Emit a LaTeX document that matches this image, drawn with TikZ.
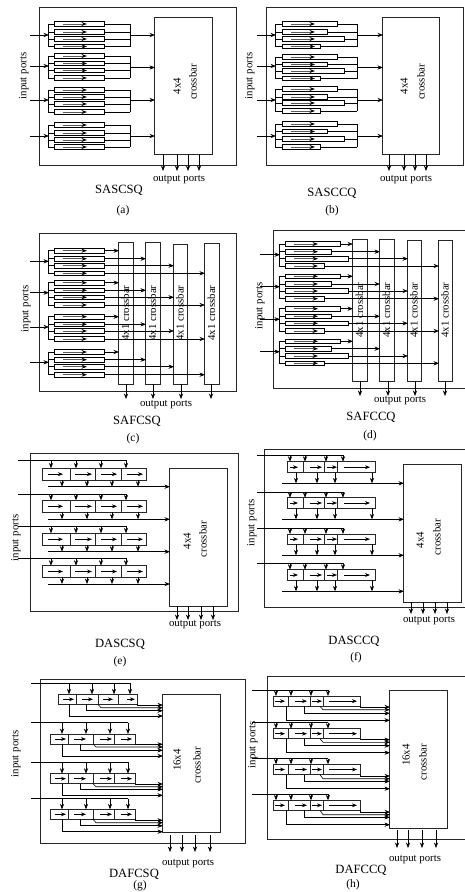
\documentclass[tikz,border=0pt]{standalone}
\usepackage{fontspec}
\setmainfont{Liberation Serif}
\usetikzlibrary{arrows.meta,calc}
\tikzset{
  wire/.style={line width=.6pt},
  arr/.style={wire,-{Stealth[length=5.5pt,width=4.2pt]},shorten >=-1pt},
  qarr/.style={line width=.9pt,black!65,-{Stealth[length=5.5pt,width=4pt,color=black]}},
  carr/.style={line width=.6pt,-{Stealth[length=5pt,width=3.8pt]}},
  frame/.style={line width=.8pt,black!85},
  barbox/.style={draw,line width=.7pt,black!85,inner sep=0pt,outer sep=0pt,anchor=north west},
  qbox/.style={draw,line width=.7pt,inner sep=0pt,outer sep=0pt,minimum height=4.5pt,anchor=west},
  cellbox/.style={draw,line width=.7pt,black!85,inner sep=0pt,outer sep=0pt,anchor=north west},
  port/.style={inner sep=0pt,font=\fontsize{10.8}{12}\selectfont},
  title/.style={inner sep=0pt,font=\fontsize{12.6}{14}\selectfont},
  capt/.style={inner sep=0pt,font=\fontsize{11.5}{13}\selectfont},
}
% crossbar: name, x0, y0, x1, y1
\newcommand\XB[5]{\node[barbox,minimum width={#4-#2},minimum height={#5-#3}] (#1) at (#2,#3) {};}
% output arrows: crossbar, x list, end y, gap
\newcommand\OUTS[4]{\foreach \x [count=\i] in {#2} {
  \coordinate (#1-o\i) at (\x,#3);
  \draw[arr,shorten <=#4pt] (#1-o\i |- #1.south) -- (#1-o\i);}}
% queue rows and fork: group, yin, y1..y4
\newcommand\ROWS[6]{
  \coordinate (#1-in) at (\Xin,#2);
  \coordinate (#1-fork) at (\Xfork,#2);
  \foreach \i/\yy/\rr in {1/#3/\Ra,2/#4/\Rb,3/#5/\Rc,4/#6/\Rd} {
    \node[qbox,minimum width={\rr-\Xbox}] (#1-\i) at (\Xbox,\yy) {};
    \draw[wire] (#1-fork |- #1-\i.west) -- (#1-\i.west);
    \draw[qarr] ({\Xbox+9},\yy) -- ({\Xbox+33},\yy);
  }
  \draw[arr] (#1-in) -- (#1-fork);
  \draw[wire] (#1-fork |- #1-1.west) -- (#1-fork |- #1-4.west);
}
% shared crossbar: group, yin, yout, y1..y4
\newcommand\SAS[7]{
  \ROWS{#1}{#2}{#4}{#5}{#6}{#7}
  \coordinate (#1-col) at (\Xcol,#3);
  \foreach \i in {1,2,3,4} {\draw[wire] (#1-\i.east) -- (#1-col |- #1-\i.east);}
  \draw[wire] (#1-col |- #1-1.east) -- (#1-col |- #1-4.east);
  \draw[arr] (#1-col) -- (\Tgt.west |- #1-col);
}
% four crossbars: group, yin, y1..y4
\newcommand\SAF[6]{
  \ROWS{#1}{#2}{#3}{#4}{#5}{#6}
  \foreach \i/\Tg in {1/\Ta,2/\Tb,3/\Tc,4/\Td} {\draw[arr] (#1-\i.east) -- (\Tg.west |- #1-\i.east);}
}
% dynamic queue: group, top line y, box top, box bottom
\newcommand\DAQ[4]{
  \coordinate (#1-in) at (\Xin,#2);
  \coordinate (#1-end) at (\Xlast,#2);
  \draw[wire] (#1-in) -- (#1-end);
  \foreach \Cl/\Crr/\Cd/\Ca/\Cb/\Cz [count=\i] in \Cells {
    \node[cellbox,minimum width={\Crr-\Cl},minimum height={#4-#3}] (#1-\i) at (\Cl,#3) {};
    \draw[arr,shorten >=0pt] (\Cd,#2) -- (\Cd,#3);
    \draw[carr] (\Ca,{(#3+#4)/2}) -- (\Cb,{(#3+#4)/2});
  }
}
% shared bus below: group, bus y
\newcommand\DAB[2]{
  \coordinate (#1-bus) at (\Xbus,#2);
  \draw[arr,line width=.7pt] (#1-bus) -- (\Tgt.west |- #1-bus);
  \foreach \Cl/\Crr/\Cd/\Ca/\Cb/\Cz [count=\i] in \Cells {
    \draw[arr,shorten >=0pt] (\Cz,0 |- #1-\i.south) -- (\Cz,#2);
  }
}
% fan in: group, x2, x3, x4, y1..y4
\newcommand\DAF[8]{
  \draw[arr] (#1-4.south east) |- (\Tgt.west |- 0,#5);
  \draw[arr] (#2,0 |- #1-1.south) -- ({#2+3},#6) -- (\Tgt.west |- 0,#6);
  \draw[arr] (#3,0 |- #1-1.south) |- (\Tgt.west |- 0,#7);
  \draw[arr] (#4,0 |- #1-1.south) |- (\Tgt.west |- 0,#8);
}
\begin{document}
\begin{tikzpicture}[x=1pt,y=-1pt]
\useasboundingbox (0,0) rectangle (465,892);

% ---------- (a) ----------
\draw[frame] (39,7) rectangle (236,165);
\XB{xa}{154}{17}{212}{154}
\def\Xin{30}\def\Xfork{48}\def\Xbox{54}\def\Xcol{130}\def\Tgt{xa}
\def\Ra{104}\def\Rb{104}\def\Rc{104}\def\Rd{104}
\SAS{a1}{35}{35}{24}{32}{39}{46.5}
\SAS{a2}{66}{67.5}{56}{63.5}{70.5}{78}
\SAS{a3}{100}{100}{90}{97}{104}{112}
\SAS{a4}{136}{136}{125}{133}{140}{147}
\OUTS{xa}{163,177,188,199}{170}{0}
\node[port,rotate=90] (a-ip) at (24,76) {input ports};
\node[port,rotate=90] (a-x1) at (177,86) {4x4};
\node[port,rotate=90] (a-x2) at (193,82) {crossbar};
\node[port] (a-op) at (179,180) {output ports};
\node[title] (a-t) at (119,190) {SASCSQ};
\node[capt] (a-c) at (123,211) {(a)};

% ---------- (b) ----------
\draw[frame] (266,7) rectangle (463,165);
\XB{xb}{382}{17}{439}{154}
\def\Xin{257}\def\Xfork{275}\def\Xbox{282}\def\Xcol{357}\def\Tgt{xb}
\def\Ra{337}\def\Rb{327}\def\Rc{344}\def\Rd{320}
\SAS{b1}{35}{35}{24}{32}{39}{46.5}
\SAS{b2}{66}{67.5}{57}{64.5}{71}{78.5}
\SAS{b3}{100}{100}{89}{97}{103}{111}
\SAS{b4}{136}{136}{124}{131.5}{139}{147}
\OUTS{xb}{389,404,415,426}{170}{0}
\node[port,rotate=90] (b-ip) at (250,76) {input ports};
\node[port,rotate=90] (b-x1) at (404,86) {4x4};
\node[port,rotate=90] (b-x2) at (421,82) {crossbar};
\node[port] (b-op) at (406,180) {output ports};
\node[title] (b-t) at (332,193) {SASCCQ};
\node[capt] (b-c) at (332,211) {(b)};

% ---------- (c) ----------
\draw[frame] (39,233) rectangle (236,391);
\XB{xc1}{118}{242}{133}{384}
\XB{xc2}{145}{242}{160}{384}
\XB{xc3}{173}{244}{187}{384}
\XB{xc4}{204}{243}{219}{384}
\def\Xin{30}\def\Xfork{48}\def\Xbox{54}
\def\Ra{104}\def\Rb{104}\def\Rc{104}\def\Rd{104}
\def\Ta{xc1}\def\Tb{xc2}\def\Tc{xc3}\def\Td{xc4}
\SAF{c1}{261.3}{250.7}{258.7}{265.7}{273.3}
\SAF{c2}{292.7}{282.7}{290.3}{297.3}{305}
\SAF{c3}{327}{316.7}{324.3}{331}{339}
\SAF{c4}{362.3}{352}{359.7}{366.7}{374.7}
\OUTS{xc1}{126}{398}{0}\OUTS{xc2}{153}{398}{0}\OUTS{xc3}{181}{398}{0}\OUTS{xc4}{211}{398}{0}
\foreach \n/\x in {xc1/125.5,xc2/152.5,xc3/180,xc4/211.5} {
  \node[port,rotate=90] (\n-t) at (\x,313) {4x1 crossbar};}
\node[port,rotate=90] (c-ip) at (26,309) {input ports};
\node[port] (c-op) at (166,405) {output ports};
\node[title] (c-t) at (137,421) {SAFCSQ};
\node[capt] (c-c) at (133,439) {(c)};

% ---------- (d) ----------
\draw[frame] (465,230) -- (273,230) -- (273,388) -- (465,388);
\XB{xd1}{352}{239}{367}{381}
\XB{xd2}{379}{239}{394}{381}
\XB{xd3}{407}{240}{421}{381}
\XB{xd4}{438}{240}{452}{381}
\def\Xin{260}\def\Xfork{279}\def\Xbox{285}
\def\Ra{340}\def\Rb{331}\def\Rc{348}\def\Rd{324}
\def\Ta{xd1}\def\Tb{xd2}\def\Tc{xd3}\def\Td{xd4}
\SAF{d1}{254.7}{244}{251.7}{258.7}{266}
\SAF{d2}{286.7}{276.3}{284}{291}{298.7}
\SAF{d3}{319.3}{308.7}{316.3}{323.3}{331}
\SAF{d4}{351.7}{341.3}{348.7}{356}{363.3}
\OUTS{xd1}{360}{395}{0}\OUTS{xd2}{388}{395}{0}\OUTS{xd3}{415}{395}{0}\OUTS{xd4}{445}{395}{0}
\foreach \n/\x in {xd1/359.5,xd2/386.5,xd3/414,xd4/445} {
  \node[port,rotate=90] (\n-t) at (\x,310) {4x1 crossbar};}
\node[port,rotate=90] (d-ip) at (260,306) {input ports};
\node[port] (d-op) at (400,401) {output ports};
\node[title] (d-t) at (371,417) {SAFCCQ};
\node[capt] (d-c) at (370,436) {(d)};

% ---------- (e) ----------
\draw[frame] (30,453) rectangle (238,611);
\XB{xe}{169}{468}{227}{606}
\def\Xin{18}\def\Xlast{127}\def\Xbus{48}\def\Tgt{xe}
\def\Cells{42/70/51/48/63/62,70/95/76/75/92/87,95/121/101/101/117/112,121/146/126/127/143/138}
\DAQ{e1}{460.7}{468.3}{480}\DAB{e1}{486.7}
\DAQ{e2}{494}{500.3}{512.3}\DAB{e2}{519.3}
\DAQ{e3}{526.3}{533.3}{545.3}\DAB{e3}{551.7}
\DAQ{e4}{558.7}{565.7}{577.3}\DAB{e4}{584}
\OUTS{xe}{177,188,201,213}{619}{0}
\node[port,rotate=90] (e-ip) at (16,538) {input ports};
\node[port,rotate=90] (e-x1) at (187,541) {4x4};
\node[port,rotate=90] (e-x2) at (203,539) {crossbar};
\node[port] (e-op) at (195,625) {output ports};
\node[title] (e-t) at (120,644) {DASCSQ};
\node[capt] (e-c) at (120,662) {(e)};

% ---------- (f) ----------
\draw[frame] (465,449) -- (264,449) -- (264,607) -- (465,607);
\XB{xf}{403}{464}{461}{602}
\def\Xin{257}\def\Xlast{344}\def\Xbus{282}\def\Tgt{xf}
\def\Cells{287/303/290/290/298/296,303/324/305/310/322/317,324/337/326/327/337/335,337/375/343/344/370/372}
\DAQ{f1}{455.7}{461.7}{472.7}\DAB{f1}{483.3}
\DAQ{f2}{492}{497.7}{508.3}\DAB{f2}{519.3}
\DAQ{f3}{528}{534}{544.3}\DAB{f3}{555.3}
\DAQ{f4}{563.7}{569.7}{580.3}\DAB{f4}{591.3}
\OUTS{xf}{411,423,435,447}{613}{0}
\node[port,rotate=90] (f-ip) at (252,523) {input ports};
\node[port,rotate=90] (f-x1) at (420,540) {4x4};
\node[port,rotate=90] (f-x2) at (437,537) {crossbar};
\node[port] (f-op) at (429,621) {output ports};
\node[title] (f-t) at (354,641) {DASCCQ};
\node[capt] (f-c) at (356,658) {(f)};

% ---------- (g) ----------
\draw[frame] (40,679) rectangle (245,843);
\XB{xg}{162}{694}{220}{832}
\def\Xin{31}\def\Tgt{xg}
\def\Xlast{130}
\def\Cells{58/76/69/63/74/0,76/98/92/82/93/0,98/118/114/103/113/0,118/137/130/127/135/0}
\DAQ{g1}{683.3}{694.3}{704.3}\DAF{g1}{98}{86}{69}{705}{707.7}{710.7}{716}
\def\Xlast{128}
\def\Cells{50/68/62/55/66/0,68/93/86/74/86/0,93/114/110/100/112/0,114/135/128/121/132/0}
\DAQ{g2}{722.7}{734}{744}\DAF{g2}{93}{80}{62}{744.3}{747}{750.3}{756}
\DAQ{g3}{762.3}{773.7}{783.7}\DAF{g3}{93}{80}{62}{784}{786.7}{789.3}{795.3}
\DAQ{g4}{798.7}{809.3}{819.3}\DAF{g4}{93}{80}{62}{820.3}{822.7}{825.7}{831.7}
\OUTS{xg}{170,182,195,210}{851}{3}
\node[port,rotate=90] (g-ip) at (16,754) {input ports};
\node[port,rotate=90] (g-x1) at (177,760) {16x4};
\node[port,rotate=90] (g-x2) at (197,765) {crossbar};
\node[port] (g-op) at (188,864) {output ports};
\node[title] (g-t) at (134,874) {DAFCSQ};
\node[capt] (g-c) at (140,885.5) {(g)};

% ---------- (h) ----------
\draw[frame] (465,676) -- (267,676) -- (267,839) -- (465,839);
\XB{xh}{389}{690}{447}{828}
\def\Xin{252}\def\Xlast{328}\def\Tgt{xh}
\def\Cells{273/288/276/275/285/0,288/310/291/295/307/0,310/323/311/312/322/0,323/360/328/329/357/0}
\DAQ{h1}{690}{696}{706.3}\DAF{h1}{320}{304}{286}{707}{709.7}{713.3}{720.3}
\DAQ{h2}{722.7}{728.7}{738.7}\DAF{h2}{320}{304}{286}{739.7}{742.3}{745.7}{752.7}
\DAQ{h3}{758.7}{764.3}{774.7}\DAF{h3}{320}{304}{286}{776}{778.7}{781.3}{788.7}
\DAQ{h4}{794.3}{800.3}{810.3}\DAF{h4}{320}{304}{286}{812}{814.7}{817.3}{824.7}
\OUTS{xh}{397,408,422,436}{847}{2}
\node[port,rotate=90] (h-ip) at (253,745) {input ports};
\node[port,rotate=90] (h-x1) at (406,755) {16x4};
\node[port,rotate=90] (h-x2) at (423,762) {crossbar};
\node[port] (h-op) at (415,860) {output ports};
\node[title] (h-t) at (361,870) {DAFCCQ};
\node[capt] (h-c) at (353,885) {(h)};
\end{tikzpicture}
\end{document}
